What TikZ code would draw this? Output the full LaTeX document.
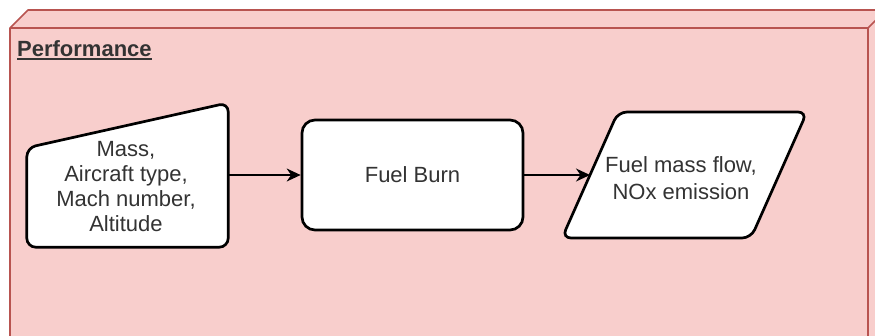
\documentclass[tikz,border=0pt]{standalone}
\usepackage{fontspec}
\setmainfont{Liberation Sans}
\usetikzlibrary{arrows.meta,calc}
\definecolor{cubefill}{HTML}{F8CECC}
\definecolor{cubeline}{HTML}{B85450}
\definecolor{ink}{HTML}{333333}
\begin{document}
\begin{tikzpicture}[x=1pt,y=-1pt,
  box/.style={draw=black,line width=2.7pt,fill=white,rounded corners=9pt},
  flow/.style={line width=1.4pt,-{Stealth[length=14pt,width=13pt,inset=4.5pt]}},
  lbl/.style={text=ink,align=center,inner sep=0pt},
  bodyfont/.style={font=\fontsize{22}{25}\selectfont}]
\useasboundingbox (0,0) rectangle (875,335);

% container drawn as a cube: top face, right face and front face
\begin{scope}
  \clip (0,0) rectangle (875,335);
  \filldraw[fill=cubefill,draw=cubeline,line width=1.6pt,line join=round]
    (10,28) -- (28,10) -- (886,10) -- (868,28) -- cycle
    (868,28) -- (886,10) -- (886,342) -- (868,360) -- cycle
    (10,28) rectangle (868,360);
\end{scope}

% container title, underlined
\node[anchor=base west,inner sep=0pt,text=ink,font=\fontsize{22}{25}\selectfont\bfseries]
  (title) at (17,56) {Performance};
\draw[ink,line width=1.6pt] ($(title.base west)+(0,2.8)$) -- ($(title.base east)+(0,2.8)$);

% manual input block
\node[minimum width=201pt,minimum height=144pt,inner sep=0pt] (inp) at (127.5,175) {};
\draw[box] (inp.south west) -- ($(inp.north west)+(0,45)$) -- (inp.north east)
  -- (inp.south east) -- cycle;
\node[lbl,bodyfont] (inptxt) at (126,186.5) {Mass,\\Aircraft type,\\Mach number,\\Altitude};

% process block
\node[box,rounded corners=13pt,minimum width=221pt,minimum height=110pt,
  inner sep=0pt,text=ink,bodyfont] (burn) at (412.5,175) {Fuel Burn};

% output data block: a parallelogram whose slanted left side meets (out.west)
\node[minimum width=189pt,minimum height=126pt,inner sep=0pt,outer sep=0pt]
  (out) at (684.5,175) {};
\draw[box] ($(out.south west)+(-28,0)$) -- ($(out.north west)+(28,0)$)
  -- ($(out.north east)+(28,0)$) -- ($(out.south east)+(-28,0)$) -- cycle;
\node[lbl,font=\fontsize{22}{27}\selectfont] (outtxt) at (681,178.5) {Fuel mass flow,\\NOx emission};

% connectors
\draw[flow] (inp.east) -- (burn.west);
\draw[flow] (burn.east) -- (out.west);
\end{tikzpicture}
\end{document}
